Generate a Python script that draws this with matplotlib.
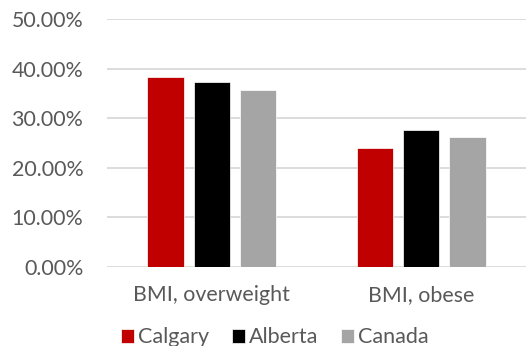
import matplotlib
matplotlib.use("Agg")
import matplotlib.pyplot as plt
from matplotlib.ticker import FuncFormatter
import numpy as np

categories = ["BMI, overweight", "BMI, obese"]
series = ["Calgary", "Alberta", "Canada"]
calgary = [0.383, 0.241]
alberta = [0.374, 0.276]
canada = [0.356, 0.262]
colors = ["#C00000", "#000000", "#A5A5A5"]

plt.rcParams['font.family'] = ['Lato', 'DejaVu Sans']
fig = plt.figure(figsize=(5.26, 3.46), dpi=100)
ax = fig.add_axes([0.2034, 0.228, 0.7966, 0.717])

x = np.arange(len(categories))
w = 0.174
step = 0.221
for i, (vals, name, c) in enumerate(zip([calgary, alberta, canada], series, colors)):
    ax.bar(x + (i - 1) * step, vals, width=w, color=c, label=name, zorder=3,
           edgecolor="white", linewidth=0.5)

ax.set_xlim(-0.5, 1.5)
ax.set_ylim(0, 0.5)
ax.set_yticks(np.arange(0, 0.51, 0.1))
ax.yaxis.set_major_formatter(FuncFormatter(lambda v, p: f"{v*100:.2f}%"))
ax.set_xticks(x)
ax.set_xticklabels(categories)
ax.grid(axis='y', color="#D9D9D9", linewidth=1.3, zorder=0)
ax.set_axisbelow(True)
for s in ax.spines.values():
    s.set_visible(False)
ax.tick_params(axis='both', length=0, labelsize=15.4, colors="#595959")
ax.tick_params(axis='y', pad=17)
ax.tick_params(axis='x', pad=13)

leg = fig.legend(loc="lower center", bbox_to_anchor=(0.523, -0.06), ncol=3, frameon=False,
                 fontsize=15.5, handlelength=0.6, handleheight=0.6, handletextpad=0.2,
                 columnspacing=1.05)
for t in leg.get_texts():
    t.set_color("#595959")

fig.savefig("out.png", dpi=100)
